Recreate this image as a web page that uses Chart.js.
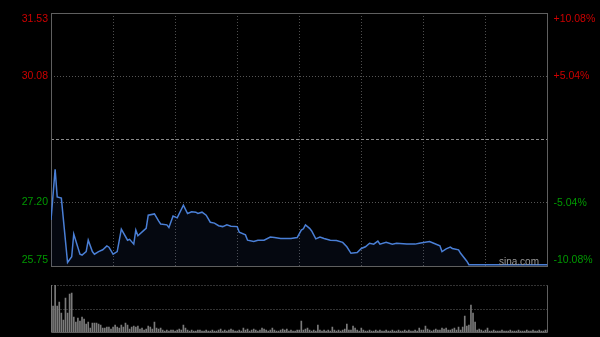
<!DOCTYPE html>
<html>
<head>
<meta charset="utf-8">
<script src="https://cdn.jsdelivr.net/npm/chart.js@4.4.0/dist/chart.umd.min.js"></script>
<style>
  html, body { margin: 0; padding: 0; background: #000; }
  #wrap { position: relative; width: 600px; height: 337px; overflow: hidden; background: #000; }
  #priceBox { position: absolute; left: 0; top: 0; width: 600px; height: 272px; }
  #volBox { position: absolute; left: 0; top: 272px; width: 600px; height: 65px; }
  #mark { position: absolute; left: 499px; top: 256px; font: 10px Arial, "Liberation Sans", sans-serif; color: #9a9a9a; }
</style>
</head>
<body>
<div id="wrap">
  <div id="priceBox"><canvas id="priceChart"></canvas></div>
  <div id="volBox"><canvas id="volChart"></canvas></div>
  <div id="mark">sina.com</div>
</div>
<script>
// previous close, axis ticks
const prevClose = 28.64;
const priceTicks = [25.75, 27.20, 28.64, 30.08, 31.53];
const pctTicks = [-10.08, -5.04, 0, 5.04, 10.08];
const timeTicks = [0, 30, 60, 90, 120, 150, 180, 210, 240];

// minutes since open and price at that minute
const times = [0, 2, 3, 5, 8, 10, 11, 14, 15, 17, 18, 20, 21, 23, 25, 27, 28, 30, 32, 34,
  37, 38, 40, 41, 42, 45, 46, 47, 50, 52, 53, 56, 57, 59, 61, 64, 66, 68, 70, 71,
  73, 75, 77, 79, 81, 83, 85, 87, 90, 91, 94, 95, 98, 100, 103, 106, 108, 111, 116, 119,
  121, 122, 123, 125, 126, 128, 130, 132, 135, 138, 141, 143, 145, 148, 150, 152, 154, 156, 158, 159,
  162, 165, 167, 172, 176, 178, 183, 185, 188, 189, 191, 193, 194, 197, 198, 201, 202, 240];
const prices = [26.80, 27.96, 27.33, 27.30, 25.83, 25.96, 26.48, 26.02, 26.00, 26.08,
  26.34, 26.08, 26.02, 26.08, 26.12, 26.21, 26.18, 26.02, 26.08, 26.59,
  26.34, 26.36, 26.25, 26.57, 26.44, 26.57, 26.61, 26.91, 26.94, 26.78,
  26.71, 26.69, 26.63, 26.89, 26.85, 27.14, 26.95, 26.99, 26.98, 26.95,
  26.98, 26.91, 26.75, 26.73, 26.67, 26.65, 26.69, 26.66, 26.65, 26.52,
  26.46, 26.34, 26.31, 26.34, 26.34, 26.41, 26.40, 26.38, 26.38, 26.40,
  26.57, 26.60, 26.69, 26.61, 26.55, 26.37, 26.41, 26.38, 26.34, 26.33,
  26.29, 26.19, 26.04, 26.06, 26.15, 26.19, 26.27, 26.25, 26.32, 26.25,
  26.29, 26.25, 26.27, 26.25, 26.25, 26.27, 26.31, 26.27, 26.21, 26.08,
  26.14, 26.18, 26.15, 26.12, 26.04, 25.86, 25.78, 25.78];

// volume per minute (0..240)
const volTicks = [0, 23.5, 47];
const volumes = [
  47, 26, 47, 26, 30, 19, 12, 34, 19, 38, 39, 15, 10, 14, 11, 15, 13, 8, 10, 4,
  9, 9, 9, 8, 7, 4, 4, 5, 5, 3, 5, 7, 5, 4, 7, 5, 9, 7, 3, 5,
  6, 5, 6, 3, 4, 2, 3, 6, 5, 3, 10, 4, 3, 4, 2, 1, 2, 1, 2, 2,
  1, 2, 3, 2, 7, 4, 2, 1, 2, 1, 1, 2, 2, 1, 1, 2, 1, 1, 2, 1,
  1, 2, 3, 1, 2, 1, 2, 3, 2, 1, 1, 2, 1, 4, 2, 3, 1, 2, 3, 2,
  1, 2, 4, 3, 2, 1, 2, 4, 2, 1, 1, 2, 3, 2, 3, 1, 2, 1, 1, 2,
  2, 11, 2, 3, 4, 2, 1, 2, 1, 7, 2, 1, 2, 1, 2, 1, 5, 2, 1, 2,
  1, 2, 3, 8, 2, 2, 6, 4, 2, 1, 4, 2, 1, 1, 2, 1, 1, 2, 1, 2,
  1, 1, 2, 1, 1, 2, 1, 1, 2, 1, 1, 2, 1, 2, 1, 1, 2, 1, 4, 2,
  2, 6, 3, 2, 1, 2, 3, 2, 2, 4, 3, 4, 2, 2, 3, 4, 2, 5, 2, 5,
  16, 6, 7, 27, 19, 10, 2, 3, 2, 1, 2, 4, 1, 1, 2, 1, 1, 1, 2, 1,
  1, 1, 2, 1, 1, 1, 2, 1, 1, 1, 2, 1, 1, 2, 1, 1, 2, 1, 1, 2, 2
];

const font = { family: 'Arial, "Liberation Sans", sans-serif', size: 10.5 };
const red = '#cc0000';
const green = '#009900';
const frame = '#5f5f5f';

// first and last labels sit inside the plot edges
function edgeLabel(text, i, n) {
  if (i === n - 1) return ['', text];
  if (i === 0) return [text, ''];
  return text;
}

const frameBox = {
  id: 'frameBox',
  beforeDatasetsDraw(chart) {
    const a = chart.chartArea;
    const ctx = chart.ctx;
    ctx.save();
    ctx.strokeStyle = frame;
    ctx.lineWidth = 1;
    ctx.strokeRect(Math.round(a.left) + 0.5, Math.round(a.top) + 0.5,
      Math.round(a.right - a.left) - 1, Math.round(a.bottom - a.top));
    ctx.restore();
  }
};

new Chart(document.getElementById('priceChart'), {
  type: 'line',
  data: {
    datasets: [{
      data: times.map((t, i) => ({ x: t, y: prices[i] })),
      borderColor: '#4a7fd6',
      borderWidth: 1.5,
      backgroundColor: 'rgba(50, 80, 160, 0.10)',
      fill: 'start',
      pointRadius: 0,
      tension: 0
    }]
  },
  options: {
    responsive: true,
    maintainAspectRatio: false,
    animation: false,
    layout: { padding: { top: 13, bottom: 6, left: 0, right: 0 } },
    plugins: { legend: { display: false }, tooltip: { enabled: false } },
    scales: {
      x: {
        type: 'linear', min: 0, max: 240,
        afterBuildTicks: s => { s.ticks = timeTicks.map(v => ({ value: v })); },
        afterFit: s => { s.height = 0; s.paddingLeft = 0; s.paddingRight = 0; },
        ticks: { display: false },
        grid: {
          drawTicks: false,
          color: c => (c.index === 0 || c.index === timeTicks.length - 1) ? 'rgba(0,0,0,0)' : '#4e4e4e'
        },
        border: { display: false, dash: [1, 2] }
      },
      y: {
        position: 'left', min: priceTicks[0], max: priceTicks[priceTicks.length - 1],
        afterBuildTicks: s => { s.ticks = priceTicks.map(v => ({ value: v })); },
        afterFit: s => { s.width = 51; s.paddingTop = 0; s.paddingBottom = 0; },
        ticks: {
          font: font, padding: 3,
          color: c => c.tick.value > prevClose ? red : green,
          callback: (v, i) => v === prevClose ? '' : edgeLabel(v.toFixed(2), i, priceTicks.length)
        },
        grid: {
          drawTicks: false,
          color: c => (c.index === 0 || c.index === priceTicks.length - 1) ? 'rgba(0,0,0,0)' : (c.index === 2 ? '#8a8a8a' : '#555')
        },
        border: { display: false, dash: c => c.index === 2 ? [3, 2] : [1, 2] }
      },
      yPct: {
        position: 'right', min: pctTicks[0], max: pctTicks[pctTicks.length - 1],
        afterBuildTicks: s => { s.ticks = pctTicks.map(v => ({ value: v })); },
        afterFit: s => { s.width = 52.5; s.paddingTop = 0; s.paddingBottom = 0; },
        ticks: {
          font: font, padding: 6,
          color: c => c.tick.value > 0 ? red : green,
          callback: (v, i) => v === 0 ? '' : edgeLabel((v > 0 ? '+' : '') + v.toFixed(2) + '%', i, pctTicks.length)
        },
        grid: { display: false, drawTicks: false },
        border: { display: false }
      }
    }
  },
  plugins: [frameBox]
});

const volLines = {
  id: 'volLines',
  beforeDatasetsDraw(chart) {
    const a = chart.chartArea;
    const ys = chart.scales.y;
    const ctx = chart.ctx;
    const l = Math.round(a.left) + 0.5, r = Math.round(a.right) - 0.5;
    ctx.save();
    ctx.lineWidth = 1;
    ctx.strokeStyle = '#666';
    ctx.setLineDash([1, 2]);
    [volTicks[2], volTicks[1]].forEach(v => {
      const y = Math.round(ys.getPixelForValue(v)) + 0.5;
      ctx.beginPath(); ctx.moveTo(l, y); ctx.lineTo(r, y); ctx.stroke();
    });
    ctx.setLineDash([]);
    ctx.strokeStyle = frame;
    const t = Math.round(ys.getPixelForValue(volTicks[2])) + 0.5;
    const b = Math.round(ys.getPixelForValue(volTicks[0])) + 0.5;
    ctx.beginPath();
    ctx.moveTo(l, t); ctx.lineTo(l, b); ctx.lineTo(r, b); ctx.lineTo(r, t);
    ctx.stroke();
    ctx.restore();
  }
};

new Chart(document.getElementById('volChart'), {
  type: 'bar',
  data: {
    datasets: [{
      data: volumes.map((v, i) => ({ x: i, y: v })),
      backgroundColor: '#7a7a7a',
      barThickness: 1
    }]
  },
  options: {
    responsive: true,
    maintainAspectRatio: false,
    animation: false,
    layout: { padding: { top: 13, bottom: 5, left: 51, right: 52.5 } },
    plugins: { legend: { display: false }, tooltip: { enabled: false } },
    scales: {
      x: { type: 'linear', min: 0, max: 240, offset: false, display: false },
      y: { min: volTicks[0], max: volTicks[2], display: false }
    }
  },
  plugins: [volLines]
});
</script>
</body>
</html>
